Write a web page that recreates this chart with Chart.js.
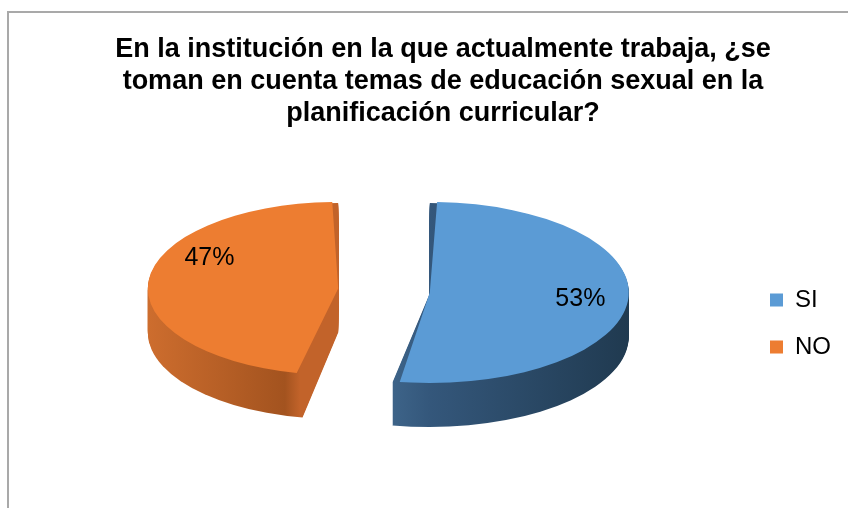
<!DOCTYPE html>
<html>
<head>
<meta charset="utf-8">
<title>Educación sexual en la planificación curricular</title>
<script src="https://cdn.jsdelivr.net/npm/chart.js@4.4.1/dist/chart.umd.min.js"></script>
<style>
    body { margin: 0; background: #fff; overflow: hidden; }
    #wrap { position: relative; width: 848px; height: 508px; }
    #frame {
        position: absolute; left: 7px; top: 11px; right: -10px; bottom: -10px;
        border-left: 2px solid #a9a9a9; border-top: 2px solid #a9a9a9;
    }
    #chart { position: absolute; left: 0; top: 0; }
</style>
</head>
<body>
<div id="wrap">
    <div id="frame"></div>
    <canvas id="chart" width="848" height="508"></canvas>
</div>
<script>
// Chart data
const titleLines = [
    'En la institución en la que actualmente trabaja, ¿se',
    'toman en cuenta temas de educación sexual en la',
    'planificación curricular?'
];
const categories = ['SI', 'NO'];
const percentages = [53, 47];
const sliceColors = ['#5b9bd5', '#ed7d31'];

// wall colours for the 3D look (stops along x, from left to right of each slice)
const wallStops = [
    [[0, '#3d6388'], [0.41, '#3d6388'], [0.5, '#34577b'], [1, '#203a50']],
    [[0, '#cd6d2e'], [0.36, '#a3531f'], [0.40, '#c2632a'], [1, '#c2632a']]
];

// geometry of one slice, same as ArcElement.draw uses (offset / 4 shift, radius grows)
function sliceGeom(arc) {
    const off = (arc.options.offset || 0) / 4;
    const mid = (arc.startAngle + arc.endAngle) / 2;
    const fix = 1 - Math.sin(Math.min(Math.PI, arc.circumference || 0));
    return {
        x: arc.x + Math.cos(mid) * off,
        y: arc.y + Math.sin(mid) * off,
        r: arc.outerRadius + off * fix,
        mid: mid
    };
}

function tilt(ctx, chart, opts) {
    const ca = chart.chartArea;
    ctx.translate(opts.cx, opts.cy);
    ctx.scale(1, opts.tilt);
    ctx.translate(-(ca.left + ca.right) / 2, -(ca.top + ca.bottom) / 2);
}

// squash the pie and give it some depth
const pie3d = {
    id: 'pie3d',
    beforeDatasetsDraw(chart, args, opts) {
        const ctx = chart.ctx;
        const arcs = chart.getDatasetMeta(0).data;
        for (let k = opts.depth; k >= 1; k--) {
            ctx.save();
            ctx.translate(0, k);
            tilt(ctx, chart, opts);
            arcs.forEach(function(arc, i) {
                const p = sliceGeom(arc);
                ctx.beginPath();
                ctx.moveTo(p.x, p.y);
                ctx.arc(p.x, p.y, p.r, arc.startAngle, arc.endAngle);
                ctx.closePath();
                const g = ctx.createLinearGradient(p.x - p.r, 0, p.x + p.r, 0);
                wallStops[i].forEach(function(s) { g.addColorStop(s[0], s[1]); });
                ctx.fillStyle = g;
                ctx.fill();
            });
            ctx.restore();
        }
        ctx.save();
        tilt(ctx, chart, opts);
    },
    afterDatasetsDraw(chart, args, opts) {
        const ctx = chart.ctx;
        ctx.restore();
        const ca = chart.chartArea;
        const acx = (ca.left + ca.right) / 2;
        const acy = (ca.top + ca.bottom) / 2;
        const arcs = chart.getDatasetMeta(0).data;
        ctx.save();
        ctx.font = '25px "Liberation Sans", Arial, sans-serif';
        ctx.fillStyle = '#000';
        ctx.textAlign = 'center';
        ctx.textBaseline = 'middle';
        arcs.forEach(function(arc, i) {
            const p = sliceGeom(arc);
            const a = p.mid + opts.labelNudge[i];
            const x = p.x + Math.cos(a) * p.r * opts.labelAt;
            const y = p.y + Math.sin(a) * p.r * opts.labelAt;
            ctx.fillText(percentages[i] + '%', x - acx + opts.cx, (y - acy) * opts.tilt + opts.cy);
        });
        ctx.restore();
    }
};

new Chart(document.getElementById('chart'), {
    type: 'pie',
    data: {
        labels: categories,
        datasets: [{
            data: percentages,
            backgroundColor: sliceColors,
            borderWidth: 0,
            offset: 184,
            hoverOffset: 184,
            radius: 153,
            clip: 1000
        }]
    },
    plugins: [pie3d],
    options: {
        responsive: false,
        animation: false,
        events: [],
        layout: {
            padding: { left: 45, right: 7, top: 0, bottom: 0 }
        },
        plugins: {
            pie3d: {
                cx: 384,
                cy: 290.5,
                tilt: 0.455,
                depth: 44,
                labelAt: 0.76,
                labelNudge: [0, 0.38]
            },
            title: {
                display: true,
                text: titleLines,
                color: '#000',
                font: { family: '"Liberation Sans", Arial, sans-serif', size: 27, weight: 'bold', lineHeight: 1.2 },
                padding: { top: 33, bottom: 9 }
            },
            legend: {
                position: 'right',
                fullSize: false,
                labels: {
                    color: '#000',
                    boxWidth: 13,
                    boxHeight: 13,
                    padding: 23,
                    font: { family: '"Liberation Sans", Arial, sans-serif', size: 24 }
                }
            },
            tooltip: { enabled: false }
        }
    }
});
</script>
</body>
</html>
